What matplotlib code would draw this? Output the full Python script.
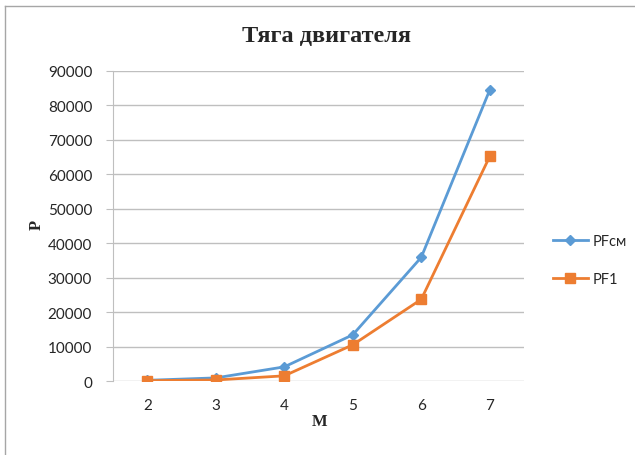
import matplotlib.pyplot as plt
from matplotlib.lines import Line2D

# Data
m_values = ['2', '3', '4', '5', '6', '7']
pf_cm = [200, 900, 4100, 13400, 35900, 84500]
pf_1 = [100, 300, 1500, 10500, 23700, 65200]

blue = '#5B9BD5'
orange = '#ED7D31'
grid_col = '#BFBFBF'
text_col = '#262626'

fig = plt.figure(figsize=(6.35, 4.56), dpi=100)
ax = fig.add_axes([113/635, 1 - 382/456, (524 - 113)/635, (382 - 72)/456])

x = range(len(m_values))
ax.plot(x, pf_cm, color=blue, lw=2, marker='D', markersize=5.5, label='PFсм')
ax.plot(x, pf_1, color=orange, lw=2, marker='s', markersize=7, label='PF1')

ax.set_xlim(-0.5, len(m_values) - 0.5)
ax.set_ylim(0, 90000)
ax.set_yticks(range(0, 90001, 10000))
ax.set_xticks(list(x))
ax.set_xticklabels(m_values)

ax.grid(axis='y', color=grid_col, lw=1)
ax.set_axisbelow(True)
for s in ['top', 'right', 'bottom']:
    ax.spines[s].set_visible(False)
ax.spines['left'].set_color(grid_col)
ax.tick_params(axis='y', length=5, color=grid_col, labelsize=11, labelcolor=text_col, pad=10)
ax.tick_params(axis='x', length=0, labelsize=11, labelcolor=text_col, pad=12)
for lbl in ax.get_xticklabels() + ax.get_yticklabels():
    lbl.set_family('Lato')

fig.text(326/635, 1 - 37/456, 'Тяга двигателя', ha='center', va='center',
         family='Liberation Serif', fontweight='bold', fontsize=17.5, color=text_col)
fig.text(320/635, 1 - 422/456, 'M', ha='center', va='center',
         family='Liberation Serif', fontweight='bold', fontsize=12, color=text_col)
fig.text(37/635, 1 - 225/456, 'P', ha='center', va='center', rotation=90,
         family='Liberation Serif', fontweight='bold', fontsize=12, color=text_col)

leg = ax.legend(loc='center left', bbox_to_anchor=(550/635, 1 - 261/456),
                bbox_transform=fig.transFigure, frameon=False, labelspacing=1.7,
                handlelength=2.4, handletextpad=0.3, borderaxespad=0, borderpad=0.2,
                prop={'family': 'Lato', 'size': 10.5})
for t in leg.get_texts():
    t.set_color(text_col)

# chart area border (top and left edges visible)
fig.add_artist(Line2D([5/635, 5/635], [0, 1 - 7/456], transform=fig.transFigure, color='#A6A6A6', lw=1))
fig.add_artist(Line2D([5/635, 1], [1 - 7/456, 1 - 7/456], transform=fig.transFigure, color='#A6A6A6', lw=1))

fig.savefig('out.png', dpi=100)
